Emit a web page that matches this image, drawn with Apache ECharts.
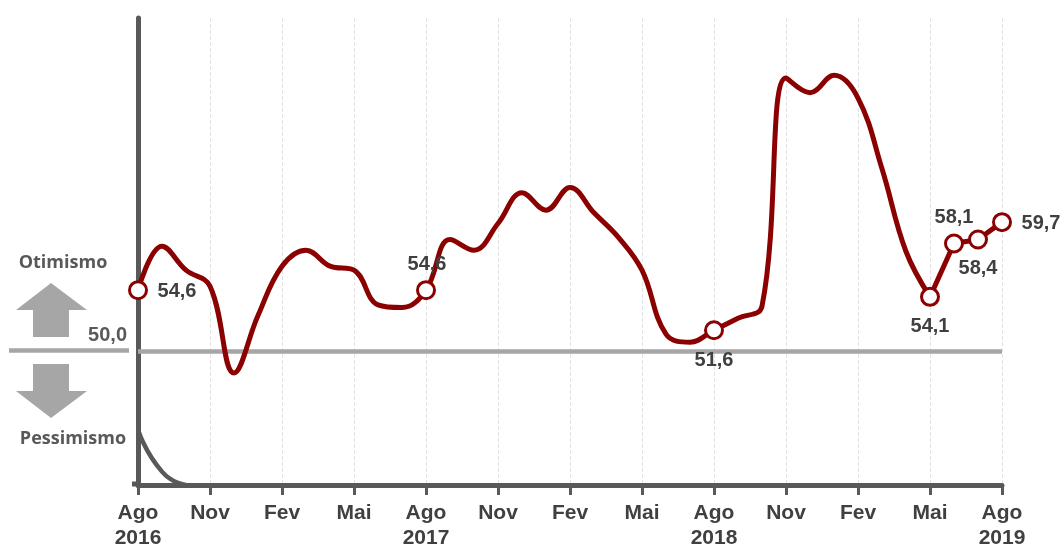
<!DOCTYPE html>
<html><head><meta charset="utf-8">
<style>html,body{margin:0;padding:0;background:#fff}#c{width:1061px;height:547px}</style>
<script src="https://cdn.jsdelivr.net/npm/echarts@6/dist/echarts.min.js"></script></head>
<body><div id="c"></div>
<script>
const months = ['Ago\n2016','Set','Out','Nov','Dez','Jan','Fev','Mar','Abr','Mai','Jun','Jul',
 'Ago\n2017','Set','Out','Nov','Dez','Jan','Fev','Mar','Abr','Mai','Jun','Jul',
 'Ago\n2018','Set','Out','Nov','Dez','Jan','Fev','Mar','Abr','Mai','Jun','Jul','Ago\n2019'];
const confidence = [54.6,57.9,56.1,54.9,48.4,52.7,56.4,57.6,56.4,56.1,53.5,53.3,
 54.6,58.4,57.6,59.6,61.9,60.6,62.3,60.4,58.6,56.1,51.3,50.7,
 51.6,52.5,53.4,70.5,69.4,70.7,69.0,63.7,57.5,54.1,58.1,58.4,59.7];
const neutral = months.map(() => 50);
const lowerCurve = [44.2,41.0,40.0];
const labelled = [0,12,24,33,34,35,36];
const straightFrom = 33;
const labelOffsets = {0:[39,1],12:[1,-26],24:[0,30],33:[0,30],34:[0,-26],35:[0,29],36:[39,1]};
const fmt = v => v.toFixed(1).replace('.',',');
const ink = '#404040', axisInk = '#595959', red = '#8b0000', grey = '#a6a6a6';
const point = (v,i) => {
  if(!labelled.includes(i)) return {value:v,symbol:'none'};
  return {value:v,symbol:'circle',symbolSize:17,
    label:{show:true,position:'inside',offset:labelOffsets[i],formatter:fmt(v),
      color:ink,fontFamily:'Liberation Sans',fontWeight:'bold',fontSize:20}};
};
const lineBase = {type:'line',showAllSymbol:true,lineStyle:{color:red,width:5},
  itemStyle:{color:'#fff',borderColor:red,borderWidth:3},z:3};

const chart = echarts.init(document.getElementById('c'), null, {renderer:'canvas'});
chart.setOption({
  animation:false,
  grid:{left:138,right:59,top:18,bottom:62,outerBoundsMode:'none'},
  xAxis:{type:'category',data:months,boundaryGap:false,
    axisLine:{lineStyle:{color:axisInk,width:5}},
    axisTick:{show:true,interval:2,alignWithLabel:true,length:10,lineStyle:{color:axisInk,width:3}},
    axisLabel:{interval:2,color:ink,fontFamily:'Liberation Sans',fontWeight:'bold',fontSize:21,lineHeight:25,margin:16,showMaxLabel:true},
    splitLine:{show:true,interval:2,lineStyle:{color:'#e3e3e3',type:'dashed',width:1}}},
  yAxis:{type:'value',min:40,max:75,interval:5,splitLine:{show:false},axisTick:{show:false},axisLabel:{show:false},
    axisLine:{show:true,lineStyle:{color:axisInk,width:5}}},
  series:[
    {type:'line',data:neutral,symbol:'none',lineStyle:{color:grey,width:4.5},silent:true,z:1},
    {type:'line',data:lowerCurve,symbol:'none',smooth:0.6,lineStyle:{color:axisInk,width:4.5},silent:true,z:1},
    Object.assign({},lineBase,{smooth:0.4,
      data:confidence.slice(0,straightFrom+1).map((v,i)=> i===straightFrom ? {value:v,symbol:'none'} : point(v,i))}),
    Object.assign({},lineBase,{smooth:false,
      data:confidence.map((v,i)=> i<straightFrom ? null : point(v,i))})
  ],
  graphic:[
    {type:'line',shape:{x1:132,y1:484,x2:140,y2:484},style:{stroke:axisInk,lineWidth:5}},
    {type:'line',shape:{x1:9,y1:350.5,x2:129,y2:350.5},style:{stroke:grey,lineWidth:4.5}},
    {type:'text',style:{x:127,y:335,text:'50,0',align:'right',verticalAlign:'middle',fill:'#595959',font:'bold 20px "Liberation Sans"'}},
    {type:'text',style:{x:63,y:263,text:'Otimismo',align:'center',verticalAlign:'middle',fill:'#595959',font:'bold 18px "Open Sans"'}},
    {type:'text',style:{x:73,y:439,text:'Pessimismo',align:'center',verticalAlign:'middle',fill:'#595959',font:'bold 18px "Open Sans"'}},
    {type:'polygon',shape:{points:[[51,283],[87,310],[69,310],[69,337],[33,337],[33,310],[16,310]]},style:{fill:grey}},
    {type:'polygon',shape:{points:[[33,364],[69,364],[69,391],[87,391],[51,418],[16,391],[33,391]]},style:{fill:grey}}
  ]
});
</script></body></html>
